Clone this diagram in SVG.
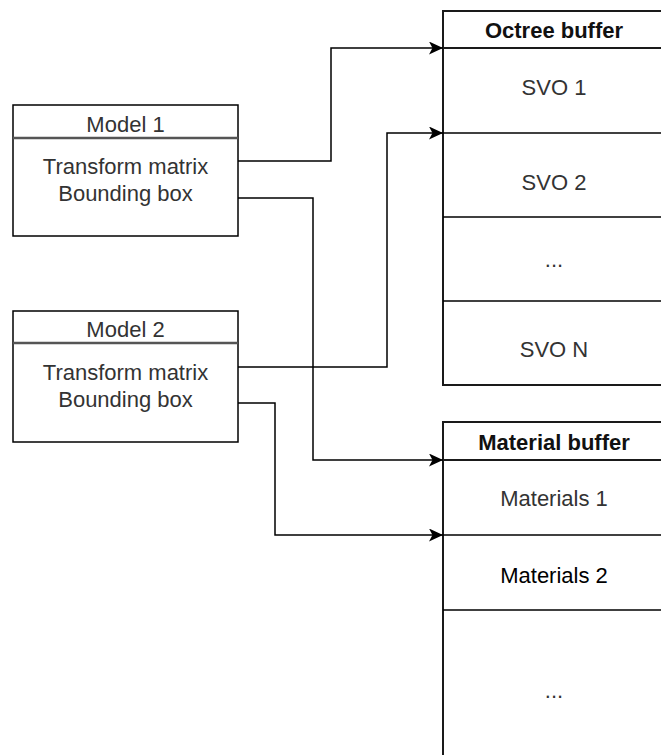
<svg xmlns="http://www.w3.org/2000/svg" width="661" height="755" viewBox="0 0 661 755">
<style>
.box{fill:#fff;stroke:#000;stroke-width:1.5}
.tbl{fill:#fff;stroke:#1a1a1a;stroke-width:2}
.sep{stroke:#555;stroke-width:2.5}
.row{stroke:#000;stroke-width:1.5}
.t{font-family:"Liberation Sans",Arial,sans-serif;font-size:22px;fill:#333;text-anchor:middle;dominant-baseline:central}
.h{font-weight:bold;fill:#111}
.c{fill:none;stroke:#000;stroke-width:1.5}
</style>
<defs>
<marker id="arr" viewBox="0 0 14 13" refX="14" refY="6.5" markerWidth="14" markerHeight="13" markerUnits="userSpaceOnUse" orient="auto">
<path d="M0,0 L14,6.5 L0,13 L3.5,6.5 Z" fill="#000"/>
</marker>
</defs>
<g id="model1">
<rect class="box" x="13" y="105" width="225" height="131"/>
<line class="sep" x1="13" y1="138" x2="238" y2="138"/>
<text class="t" x="125.5" y="124">Model 1</text>
<text class="t" x="125.5" y="166">Transform matrix</text>
<text class="t" x="125.5" y="193">Bounding box</text>
</g>
<g id="model2">
<rect class="box" x="13" y="311" width="225" height="131"/>
<line class="sep" x1="13" y1="343" x2="238" y2="343"/>
<text class="t" x="125.5" y="329">Model 2</text>
<text class="t" x="125.5" y="372">Transform matrix</text>
<text class="t" x="125.5" y="399">Bounding box</text>
</g>
<g id="octree">
<rect class="tbl" x="443" y="11" width="222" height="374"/>
<line class="tbl" x1="443" y1="48" x2="665" y2="48"/>
<line class="row" x1="443" y1="133" x2="665" y2="133"/>
<line class="row" x1="443" y1="217" x2="665" y2="217"/>
<line class="row" x1="443" y1="301" x2="665" y2="301"/>
<text class="t h" x="554" y="30">Octree buffer</text>
<text class="t" x="554" y="87">SVO 1</text>
<text class="t" x="554" y="182">SVO 2</text>
<text class="t" x="554" y="259">...</text>
<text class="t" x="554" y="349">SVO N</text>
</g>
<g id="material">
<rect class="tbl" x="443" y="422" width="222" height="340"/>
<line class="tbl" x1="443" y1="460" x2="665" y2="460"/>
<line class="row" x1="443" y1="535" x2="665" y2="535"/>
<line class="row" x1="443" y1="610" x2="665" y2="610"/>
<text class="t h" x="554" y="442">Material buffer</text>
<text class="t" x="554" y="498">Materials 1</text>
<text class="t" x="554" y="575" style="fill:#000">Materials 2</text>
<text class="t" x="554" y="690">...</text>
</g>
<g id="connectors">
<path class="c" d="M238,161 H331 V48 H443" marker-end="url(#arr)"/>
<path class="c" d="M238,198 H313 V460 H443" marker-end="url(#arr)"/>
<path class="c" d="M238,367 H387 V133 H443" marker-end="url(#arr)"/>
<path class="c" d="M238,403 H275 V535 H443" marker-end="url(#arr)"/>
</g>
</svg>
